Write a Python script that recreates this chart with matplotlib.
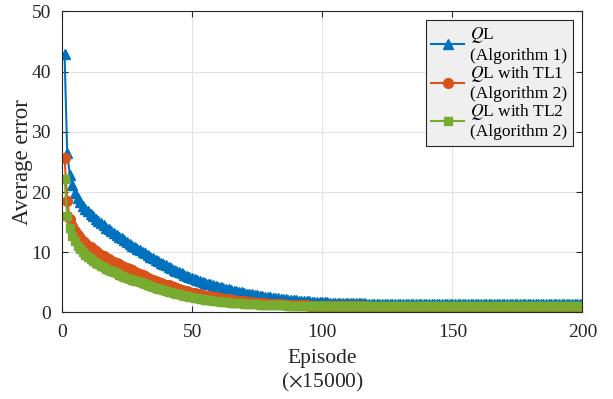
import numpy as np
import matplotlib
matplotlib.use("Agg")
from matplotlib import pyplot as plt

# average error per episode (x15000)
episodes = list(range(1, 201))

err_ql = [
    43.0, 26.5, 22.9, 21.2, 19.9, 19.0, 18.3, 17.7, 17.2, 16.8,
    16.4, 16.0, 15.6, 15.2, 14.8, 14.5, 14.1, 13.8, 13.5, 13.2,
    12.9, 12.6, 12.3, 12.0, 11.7, 11.4, 11.1, 10.8, 10.6, 10.3,
    10.0, 9.8, 9.5, 9.3, 9.0, 8.8, 8.6, 8.3, 8.1, 7.9,
    7.6, 7.4, 7.1, 6.9, 6.7, 6.5, 6.3, 6.1, 5.9, 5.7,
    5.55, 5.4, 5.25, 5.1, 4.95, 4.8, 4.7, 4.55, 4.45, 4.3,
    4.2, 4.1, 3.95, 3.85, 3.75, 3.65, 3.55, 3.45, 3.35, 3.25,
    3.15, 3.08, 3.0, 2.92, 2.85, 2.78, 2.71, 2.64, 2.58, 2.52,
    2.46, 2.4, 2.35, 2.3, 2.25, 2.2, 2.15, 2.11, 2.07, 2.03,
    1.99, 1.95, 1.92, 1.88, 1.85, 1.82, 1.79, 1.76, 1.74, 1.71,
    1.69, 1.67, 1.65, 1.63, 1.61, 1.6, 1.58, 1.57, 1.56, 1.55,
    1.54, 1.53, 1.52, 1.51, 1.5, 1.5, 1.49, 1.48, 1.48, 1.47,
    1.47, 1.46, 1.46, 1.46, 1.45, 1.45, 1.45, 1.45, 1.44, 1.44,
    1.44, 1.44, 1.44, 1.43, 1.43, 1.43, 1.43, 1.43, 1.43, 1.42,
    1.42, 1.42, 1.42, 1.42, 1.42, 1.42, 1.42, 1.42, 1.42, 1.42,
    1.42, 1.42, 1.41, 1.41, 1.41, 1.41, 1.41, 1.41, 1.41, 1.41,
    1.41, 1.40, 1.40, 1.40, 1.40, 1.40, 1.40, 1.40, 1.40, 1.40,
    1.40, 1.40, 1.40, 1.40, 1.40, 1.40, 1.40, 1.40, 1.40, 1.40,
    1.40, 1.40, 1.40, 1.40, 1.40, 1.40, 1.40, 1.40, 1.40, 1.40,
    1.40, 1.40, 1.40, 1.40, 1.40, 1.40, 1.40, 1.40, 1.40, 1.40,
]

err_tl1 = [
    25.7, 18.5, 15.6, 14.3, 13.5, 12.8, 12.3, 11.9, 11.5, 11.1,
    10.8, 10.5, 10.2, 9.9, 9.6, 9.35, 9.1, 8.85, 8.6, 8.4,
    8.2, 8.0, 7.8, 7.6, 7.4, 7.2, 7.0, 6.8, 6.6, 6.4,
    6.2, 6.0, 5.8, 5.6, 5.45, 5.3, 5.1, 4.95, 4.8, 4.65,
    4.5, 4.35, 4.2, 4.05, 3.9, 3.75, 3.6, 3.5, 3.4, 3.3,
    3.2, 3.1, 3.0, 2.9, 2.82, 2.74, 2.66, 2.58, 2.5, 2.43,
    2.36, 2.29, 2.22, 2.16, 2.1, 2.04, 1.98, 1.93, 1.88, 1.83,
    1.78, 1.74, 1.7, 1.66, 1.62, 1.58, 1.55, 1.52, 1.49, 1.46,
    1.43, 1.4, 1.38, 1.35, 1.33, 1.31, 1.29, 1.27, 1.25, 1.23,
    1.21, 1.2, 1.18, 1.17, 1.15, 1.14, 1.13, 1.12, 1.11, 1.1,
    1.09, 1.08, 1.07, 1.06, 1.05, 1.05, 1.04, 1.03, 1.03, 1.02,
    1.02, 1.01, 1.01, 1.0, 1.0, 1.0, 0.99, 0.99, 0.99, 0.98,
    0.98, 0.98, 0.98, 0.97, 0.97, 0.97, 0.97, 0.97, 0.96, 0.96,
    0.96, 0.96, 0.96, 0.96, 0.96, 0.96, 0.96, 0.96, 0.96, 0.96,
    0.96, 0.96, 0.96, 0.96, 0.95, 0.95, 0.95, 0.95, 0.95, 0.95,
    0.95, 0.95, 0.95, 0.95, 0.95, 0.95, 0.95, 0.95, 0.95, 0.95,
    0.95, 0.95, 0.95, 0.95, 0.95, 0.95, 0.95, 0.95, 0.95, 0.95,
    0.95, 0.95, 0.95, 0.95, 0.95, 0.95, 0.95, 0.95, 0.95, 0.95,
    0.95, 0.95, 0.95, 0.95, 0.95, 0.95, 0.95, 0.95, 0.95, 0.95,
    0.95, 0.95, 0.95, 0.95, 0.95, 0.95, 0.95, 0.95, 0.95, 0.95,
]

err_tl2 = [
    22.2, 16.0, 14.0, 12.7, 11.8, 11.1, 10.5, 10.0, 9.6, 9.2,
    8.9, 8.6, 8.3, 8.0, 7.75, 7.5, 7.3, 7.1, 6.9, 6.7,
    6.5, 6.3, 6.1, 5.95, 5.8, 5.6, 5.45, 5.3, 5.15, 5.0,
    4.85, 4.7, 4.55, 4.4, 4.25, 4.1, 3.97, 3.84, 3.71, 3.58,
    3.46, 3.34, 3.22, 3.11, 3.0, 2.9, 2.8, 2.7, 2.6, 2.51,
    2.43, 2.35, 2.28, 2.21, 2.14, 2.08, 2.02, 1.96, 1.91, 1.86,
    1.81, 1.76, 1.72, 1.68, 1.64, 1.6, 1.56, 1.53, 1.5, 1.47,
    1.44, 1.41, 1.39, 1.36, 1.34, 1.32, 1.3, 1.28, 1.26, 1.25,
    1.23, 1.22, 1.2, 1.19, 1.18, 1.17, 1.16, 1.15, 1.14, 1.13,
    1.12, 1.12, 1.11, 1.1, 1.1, 1.09, 1.09, 1.08, 1.08, 1.07,
    1.07, 1.07, 1.06, 1.06, 1.06, 1.05, 1.05, 1.05, 1.05, 1.05,
    1.05, 1.05, 1.05, 1.05, 1.04, 1.04, 1.04, 1.04, 1.04, 1.04,
    1.04, 1.04, 1.04, 1.04, 1.04, 1.03, 1.03, 1.03, 1.03, 1.03,
    1.03, 1.03, 1.03, 1.03, 1.03, 1.03, 1.03, 1.03, 1.03, 1.03,
    1.03, 1.03, 1.03, 1.03, 1.03, 1.03, 1.03, 1.03, 1.03, 1.03,
    1.03, 1.03, 1.03, 1.03, 1.03, 1.03, 1.03, 1.03, 1.03, 1.03,
    1.03, 1.03, 1.03, 1.03, 1.03, 1.03, 1.03, 1.03, 1.03, 1.03,
    1.03, 1.03, 1.03, 1.03, 1.03, 1.03, 1.03, 1.03, 1.03, 1.03,
    1.03, 1.03, 1.03, 1.03, 1.03, 1.03, 1.03, 1.03, 1.03, 1.03,
    1.03, 1.03, 1.03, 1.03, 1.03, 1.03, 1.03, 1.03, 1.03, 1.03,
]

labels = ["$Q$L\n(Algorithm 1)", "$Q$L with TL1\n(Algorithm 2)", "$Q$L with TL2\n(Algorithm 2)"]
xticks = [0, 50, 100, 150, 200]
yticks = [0, 10, 20, 30, 40, 50]

plt.rcParams["font.family"] = ["Liberation Serif", "DejaVu Serif"]
plt.rcParams["mathtext.fontset"] = "stix"

fig = plt.figure(figsize=(6.13, 3.99), dpi=100)
ax = fig.add_axes([0.1011, 0.2168, 0.8491, 0.7544])

ax.plot(episodes, err_ql, color="#0072BD", marker="^", ms=7.5, lw=1.5, label=labels[0])
ax.plot(episodes, err_tl1, color="#D95319", marker="o", ms=7, lw=1.5, label=labels[1])
ax.plot(episodes, err_tl2, color="#77AC30", marker="s", ms=6, lw=1.5, label=labels[2])

ax.set_xlim(0, 200)
ax.set_ylim(0, 50)
ax.set_xticks(xticks)
ax.set_yticks(yticks)
ax.tick_params(direction="in", top=True, right=True, labelsize=14, colors="#262626",
               length=4, width=0.8, pad=8)
for s in ax.spines.values():
    s.set_color("#262626")
    s.set_linewidth(0.8)
ax.grid(True, color="#e3e3e3", lw=0.8)
ax.set_axisbelow(True)

ax.set_xlabel("Episode\n($\\times$15000)", fontsize=15.5, color="#262626",
              linespacing=1.2, labelpad=6)
ax.set_ylabel("Average error", fontsize=16.5, color="#262626", labelpad=-1)

leg = ax.legend(loc="upper right", bbox_to_anchor=(0.981, 0.972), borderaxespad=0,
                fontsize=12.5, fancybox=False, framealpha=1, facecolor="#efefef",
                edgecolor="#262626", handlelength=1.9, handletextpad=0.35,
                borderpad=0.3, labelspacing=0.0)
leg.get_frame().set_linewidth(0.8)

fig.savefig("out.png", dpi=100)
